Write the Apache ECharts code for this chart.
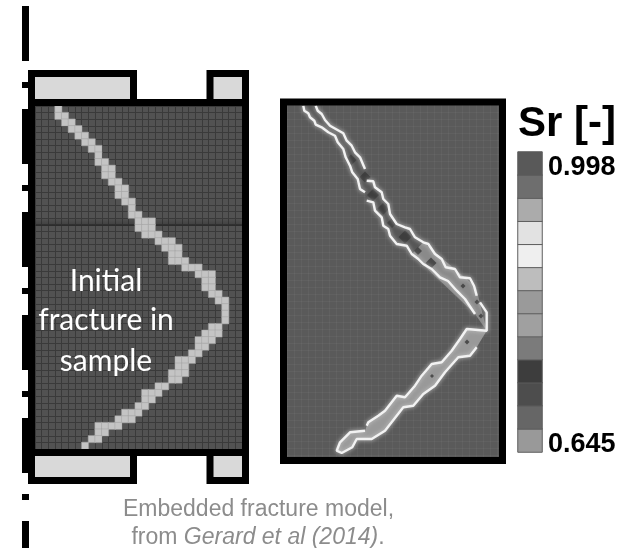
<!DOCTYPE html>
<html><head><meta charset="utf-8">
<style>html,body{margin:0;padding:0;background:#fff}#c{width:623px;height:548px;filter:blur(0.5px)}</style>
<script src="https://cdn.jsdelivr.net/npm/echarts@6/dist/echarts.min.js"></script>
</head><body><div id="c"></div>
<script>
// Left panel: fracture cells, one list of columns per mesh row
const meshCols = 31, meshRows = 52;
const fractureCols = [[3],[3,4],[4,5],[5,6],[6,7],[7,8],[8,9],[9],[9,10],[10,11],[10,11],[11,12],[12,13],[12,13],[13,14],[14],[14,15],[15,16,17],[15,16,17],[16,17,18],[18,19,20],[19,20,21],[20,21],[20,21,22],[22,23,24],[24,25,26],[25,26],[25,26],[26,27],[27,28],[28],[28],[28],[26,27],[25,26,27],[24,25,26],[24,25],[23,24],[21,22,23],[21,22],[20,21,22],[20,21],[18,19],[16,17,18],[16,17],[15,16],[13,14,15],[12,13,14],[9,10,11,12],[9,10],[8,9],[7]];
// Right panel: saturation front outlines, in model units
const frontUpperLeft = [[16.3,.7],[17.3,5.7],[21.3,8.3],[23,12.3],[27.3,15.7],[28.7,19.7],[34.7,22.3],[41.3,27.3],[48,30.7],[50.7,37.3],[56.3,44],[58.7,52.3],[63,60.7],[65.3,67.3],[70.7,74],[73,84],[78,87.3]];
const frontUpperRight = [[28.7,.7],[30.7,5.7],[34.7,9],[38,15],[43,20.7],[56.3,28.3],[59.7,35.7],[64.7,40.7],[68,47.3],[73,52.3],[78,64]];
const frontMiddleRight = [[79.7,75.7],[86.3,76.3],[88,82.3],[94.7,87.3],[96.3,94],[101.3,99],[103,109],[109.7,119],[118,122.3],[123,124],[128,132.3],[136.3,137.3],[141.3,139],[148,149],[154.7,154],[158.7,162.3],[168,164],[173,172.3],[183,173.3],[187,180.7],[189.7,190.7]];
const frontMiddleLeft = [[79.7,95.7],[86.3,97.3],[88,105.7],[94.7,112.3],[96.3,120.7],[101.3,124],[103,130.7],[109.7,139],[119.7,140.7],[124.7,149],[131.3,154],[136.3,159],[144.7,164],[153,172.3],[161,176],[169.7,185.7],[178,194],[188,209]];
const frontTip = [[193,197.3],[199.7,207.3],[199.7,225.7],[179.7,224],[173,234],[164.7,245.7],[154.7,257.3],[144.7,259],[134.7,270.7],[128,280.7],[118,292.3],[109.7,290.7],[98,305.7],[91.3,310.7],[81.3,317.3],[79.7,320.7]];
const frontLower = [[189.7,242.3],[183,250.7],[171.3,252.3],[158,267.3],[148,280.7],[136.3,289],[126.3,300.7],[116.3,302.3],[98,325.7],[84.7,334],[69.7,334],[65.3,342.3],[54.7,348],[49.7,345.7],[53,337.3],[63,327.3],[78,325.7]];
const darkPatches = [[64,55,11],[78,72,11],[86,90,12],[96,104,12],[105,118,10],[118,132,13],[131,146,8],[144,158,11],[176,181,5],[190,197,5],[194,211,5],[180,237,5],[145,271,4]];
// Colour scale
const scaleLabels = ['0.645','','','','','','','','','','','','0.998'];
const scaleGreys = ['#999999','#666666','#4d4d4d','#3d3d3d','#7b7b7b','#a0a0a0','#9a9a9a','#bdbdbd','#efefef','#e2e2e2','#ababab','#6e6e6e','#595959'];
const dashDot = [55,21,6,21];

const idx = n => Array.from({length:n},(_,i)=>String(i));
const cells = [];
fractureCols.forEach((cols,r)=>cols.forEach(c=>cells.push([c,r,1])));
const polygon = (pts,fill,z) => ({
  type:'custom',xAxisIndex:1,yAxisIndex:1,z,silent:true,clip:true,data:[0],
  renderItem:(p,api)=>({type:'polygon',shape:{points:pts.map(q=>api.coord(q))},style:{fill}})
});
const front = pts => ({
  type:'line',xAxisIndex:1,yAxisIndex:1,z:5,data:pts,showSymbol:false,silent:true,
  lineStyle:{color:'#f2f2f2',width:2.4,shadowColor:'rgba(200,200,200,1)',shadowBlur:4}
});
const hidden = {axisLine:{show:false},axisTick:{show:false},axisLabel:{show:false}};
const upperBand = [...frontUpperLeft,...frontMiddleLeft,...frontTip.slice(0,3),...frontMiddleRight.slice().reverse(),...frontUpperRight.slice().reverse()];
const lowerBand = [...frontTip.slice(2),...frontLower.slice().reverse()];
const f='"Liberation Sans",Arial,sans-serif';
const cap={fontFamily:f,fontWeight:'normal',fontSize:23,color:'#8c8c8c'};
const note={fontFamily:'Lato',fontWeight:'normal',fontSize:30,color:'#fff'};

const option = {
  animation:false,backgroundColor:'#fff',
  title:[
    {text:'Sr [-]',left:518,top:103,padding:0,textStyle:{fontFamily:f,fontWeight:'bold',fontSize:42,color:'#000'}},
    {text:'Embedded fracture model,',left:258.5,top:498,padding:0,textAlign:'center',textStyle:cap},
    {text:'{a|from }{b|Gerard et al (2014)}{a|.}',left:258,top:526,padding:0,textAlign:'center',textStyle:{fontWeight:'normal',rich:{a:cap,b:{...cap,fontStyle:'italic'}}}},
    {text:'Initial',left:106,top:266,padding:0,textAlign:'center',textStyle:note},
    {text:'fracture in',left:106,top:305,padding:0,textAlign:'center',textStyle:note},
    {text:'sample',left:106,top:346,padding:0,textAlign:'center',textStyle:note}
  ],
  grid:[
    {left:35,top:106,width:207,height:343,show:true,backgroundColor:'#525252',borderWidth:0},
    {left:287,top:105,width:212,height:352,show:true,backgroundColor:'#5a5a5a',borderWidth:0},
    {left:518,top:152,width:24,height:300},
    {left:22,top:6,width:7,height:542}
  ],
  xAxis:[
    {gridIndex:0,type:'category',data:idx(meshCols),...hidden,splitLine:{show:true,interval:0,lineStyle:{color:'#3a3a3a',width:1}}},
    {gridIndex:1,type:'value',min:0,max:212,interval:7,...hidden,splitLine:{show:true,lineStyle:{color:'rgba(255,255,255,0.04)',width:1}}},
    {gridIndex:2,type:'category',data:['Sr'],...hidden},
    {gridIndex:3,type:'value',min:-1,max:1,show:false}
  ],
  yAxis:[
    {gridIndex:0,type:'category',inverse:true,data:idx(meshRows),...hidden,splitLine:{show:true,interval:0,lineStyle:{color:'#3a3a3a',width:1}}},
    {gridIndex:1,type:'value',inverse:true,min:0,max:352,interval:7,...hidden,splitLine:{show:true,lineStyle:{color:'rgba(255,255,255,0.04)',width:1}}},
    {gridIndex:2,type:'category',position:'right',data:scaleLabels,axisLine:{show:false},axisTick:{show:false},
      axisLabel:{interval:0,margin:6,formatter:v=>v?'{v|'+v+'}':'',rich:{v:{padding:[8,0,0,0],fontFamily:f,fontWeight:'bold',fontSize:27,color:'#000'}}}},
    {gridIndex:3,type:'value',min:0,max:1,inverse:true,show:false}
  ],
  series:[
    {type:'heatmap',xAxisIndex:0,yAxisIndex:0,z:3,data:cells,silent:true,itemStyle:{color:'#c4c4c4',borderColor:'#a0a0a0',borderWidth:0.5}},
    polygon(upperBand,'#565656',2),
    polygon(lowerBand,'#999999',2),
    polygon([[124.7,149],[136.3,137.3],[189,182],[199.7,225.7],[188,209]],'#8a8a8a',3),
    {type:'scatter',xAxisIndex:1,yAxisIndex:1,z:4,symbol:'diamond',silent:true,data:darkPatches,symbolSize:d=>d[2],itemStyle:{color:'#383838'}},
    front(frontUpperLeft),front(frontUpperRight),front(frontMiddleRight),front(frontMiddleLeft),front(frontTip),front(frontLower),
    {type:'heatmap',xAxisIndex:2,yAxisIndex:2,silent:true,
      data:scaleGreys.map((c,i)=>({value:[0,i,i],itemStyle:{color:c,borderColor:'#5e5e5e',borderWidth:1}}))},
    {type:'line',xAxisIndex:3,yAxisIndex:3,showSymbol:false,silent:true,clip:false,data:[[0,0],[0,1]],
      lineStyle:{color:'#000',width:7,type:dashDot,cap:'butt'}}
  ],
  graphic:{elements:[
    {type:'rect',z:1,shape:{x:35,y:218,width:207,height:7},style:{fill:{type:'linear',x:0,y:0,x2:0,y2:1,colorStops:[{offset:0,color:'rgba(30,30,30,0)'},{offset:1,color:'rgba(30,30,30,0.35)'}]}}},
    {type:'rect',z:1,shape:{x:35,y:225,width:207,height:1},style:{fill:'#2c2c2c'}},
    {type:'rect',z:8,shape:{x:31.5,y:73.5,width:102,height:29},style:{fill:'#d9d9d9',stroke:'#000',lineWidth:7}},
    {type:'rect',z:8,shape:{x:210,y:73.5,width:35.5,height:29},style:{fill:'#d9d9d9',stroke:'#000',lineWidth:7}},
    {type:'rect',z:8,shape:{x:31.5,y:452.5,width:102,height:28},style:{fill:'#d9d9d9',stroke:'#000',lineWidth:7}},
    {type:'rect',z:8,shape:{x:210,y:452.5,width:35.5,height:28},style:{fill:'#d9d9d9',stroke:'#000',lineWidth:7}},
    {type:'rect',z:8,shape:{x:31.5,y:102.5,width:214,height:350},style:{fill:'none',stroke:'#000',lineWidth:7}},
    {type:'rect',z:8,shape:{x:283.5,y:102,width:219,height:358.5},style:{fill:'none',stroke:'#000',lineWidth:7}}
  ]}
};
echarts.init(document.getElementById('c'),null,{renderer:'canvas'}).setOption(option);
</script></body></html>
